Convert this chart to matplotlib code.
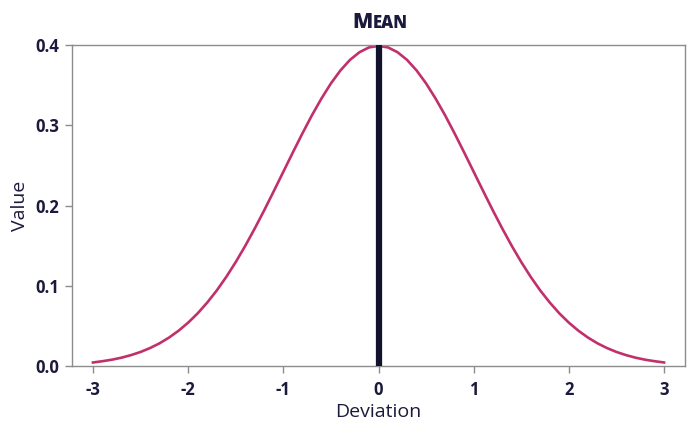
import matplotlib
matplotlib.use("Agg")
import matplotlib.pyplot as plt

# --- data ---
deviation = [
    -3.0, -2.9, -2.8, -2.7, -2.6, -2.5, -2.4, -2.3, -2.2, -2.1,
    -2.0, -1.9, -1.8, -1.7, -1.6, -1.5, -1.4, -1.3, -1.2, -1.1,
    -1.0, -0.9, -0.8, -0.7, -0.6, -0.5, -0.4, -0.3, -0.2, -0.1,
    0.0, 0.1, 0.2, 0.3, 0.4, 0.5, 0.6, 0.7, 0.8, 0.9,
    1.0, 1.1, 1.2, 1.3, 1.4, 1.5, 1.6, 1.7, 1.8, 1.9,
    2.0, 2.1, 2.2, 2.3, 2.4, 2.5, 2.6, 2.7, 2.8, 2.9, 3.0,
]
value = [
    0.0044, 0.0060, 0.0079, 0.0104, 0.0136, 0.0175, 0.0224, 0.0283, 0.0355, 0.0440,
    0.0540, 0.0656, 0.0790, 0.0940, 0.1109, 0.1295, 0.1497, 0.1714, 0.1942, 0.2179,
    0.2420, 0.2661, 0.2897, 0.3123, 0.3332, 0.3521, 0.3683, 0.3814, 0.3910, 0.3970,
    0.3989, 0.3970, 0.3910, 0.3814, 0.3683, 0.3521, 0.3332, 0.3123, 0.2897, 0.2661,
    0.2420, 0.2179, 0.1942, 0.1714, 0.1497, 0.1295, 0.1109, 0.0940, 0.0790, 0.0656,
    0.0540, 0.0440, 0.0355, 0.0283, 0.0224, 0.0175, 0.0136, 0.0104, 0.0079, 0.0060, 0.0044,
]
mean_x = 0.0
x_ticks = [-3, -2, -1, 0, 1, 2, 3]
y_ticks = [0.0, 0.1, 0.2, 0.3, 0.4]

ink = "#1b1a3c"
curve_color = "#c1306b"
frame_color = "#8c8c8c"

plt.rcParams["font.family"] = ["Open Sans", "DejaVu Sans"]

fig = plt.figure(figsize=(6.89, 4.21), dpi=100)
ax = fig.add_axes([0.1045, 0.1306, 0.8897, 0.7625])

ax.plot(deviation, value, color=curve_color, linewidth=1.9, zorder=2)
ax.vlines(mean_x, 0, 0.4, color="#12122c", linewidth=4.5, zorder=3)

ax.set_xlim(-3.22, 3.22)
ax.set_ylim(0, 0.4)
ax.set_xticks(x_ticks)
ax.set_xticklabels([str(t) for t in x_ticks])
ax.set_yticks(y_ticks)
ax.set_yticklabels([f"{t:.1f}" for t in y_ticks])

for s in ax.spines.values():
    s.set_color(frame_color)
    s.set_linewidth(1.0)
ax.tick_params(axis="both", direction="out", length=5, width=1,
               color=frame_color, labelcolor=ink, labelsize=12)
ax.tick_params(axis="x", pad=6)
ax.tick_params(axis="y", pad=4)
for lbl in ax.get_xticklabels() + ax.get_yticklabels():
    lbl.set_fontweight("bold")

ax.set_xlabel("Deviation", fontsize=14, color=ink, labelpad=3)
ax.set_ylabel("Value", fontsize=14, color=ink, labelpad=5)

# small-caps style title: big "M" followed by smaller "EAN"
fig.canvas.draw()
renderer = fig.canvas.get_renderer()
t1 = fig.text(0, 0, "M", fontsize=15, fontweight="heavy", color=ink)
t2 = fig.text(0, 0, "EAN", fontsize=12, fontweight="heavy", color=ink)
w1 = t1.get_window_extent(renderer).width
w2 = t2.get_window_extent(renderer).width
cx = 380.0
base_y = 421 - 28
x0 = cx - (w1 + w2) / 2
t1.set_position((x0 / 689, base_y / 421))
t2.set_position(((x0 + w1 + 0.5) / 689, base_y / 421))

fig.savefig("out.png", dpi=100)
